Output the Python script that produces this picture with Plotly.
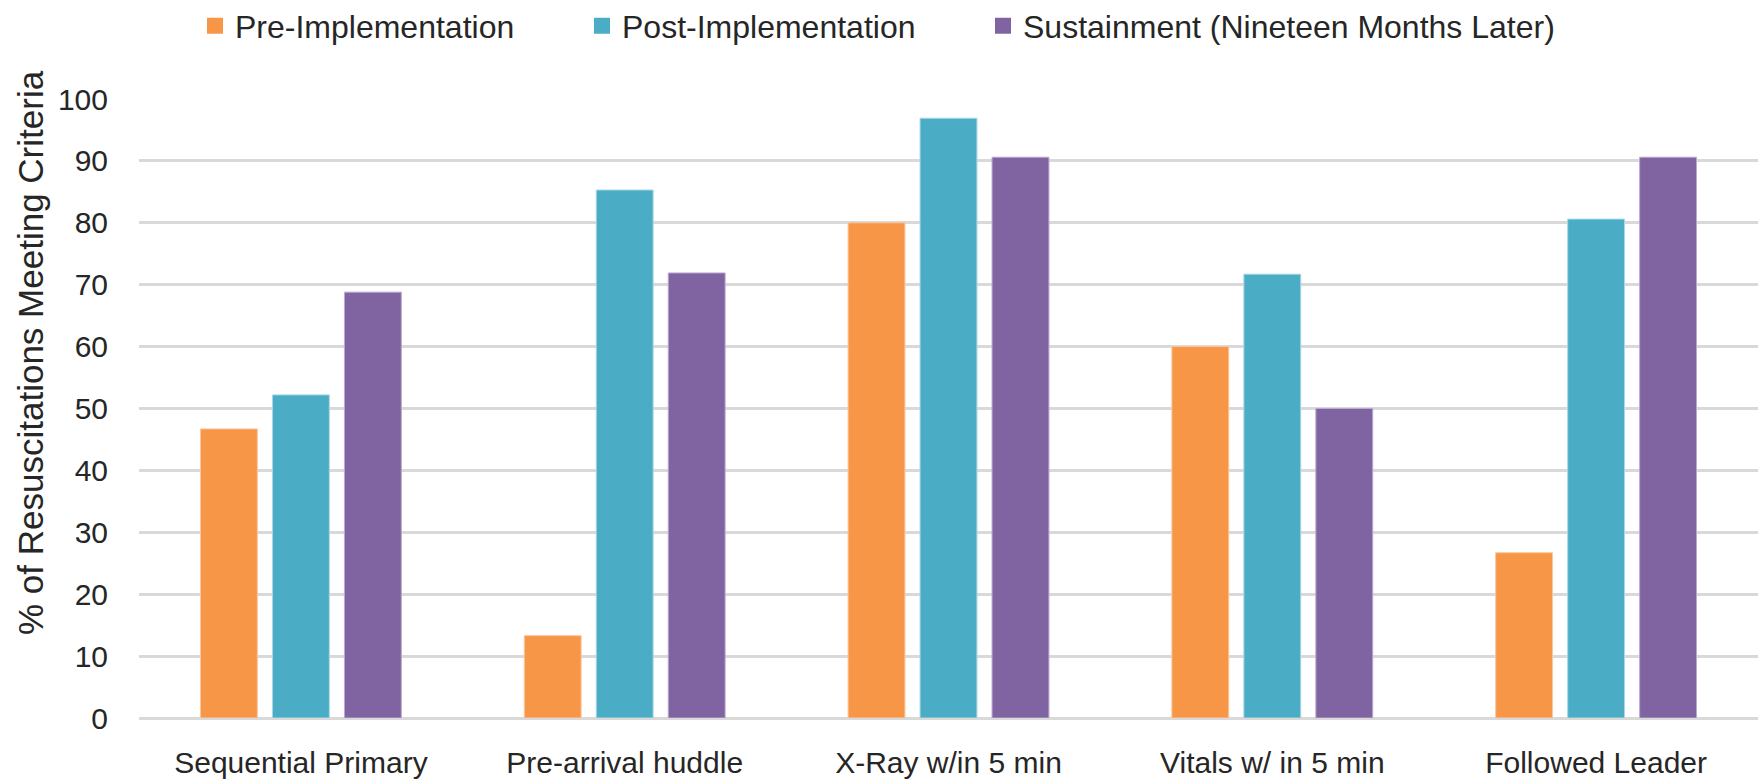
import plotly.graph_objects as go

# Resuscitation process measures, % of cases meeting each criterion
categories = [
    "Sequential Primary",
    "Pre-arrival huddle",
    "X-Ray w/in 5 min",
    "Vitals w/ in 5 min",
    "Followed Leader",
]
pre_implementation = [46.7, 13.3, 80.0, 60.0, 26.7]
post_implementation = [52.2, 85.3, 96.9, 71.7, 80.6]
sustainment = [68.8, 71.9, 90.6, 50.0, 90.6]

series_names = [
    "Pre-Implementation",
    "Post-Implementation",
    "Sustainment (Nineteen Months Later)",
]
series_values = [pre_implementation, post_implementation, sustainment]
colors = ["#F79646", "#4BACC6", "#8064A2"]
edge_colors = ["#FBC7A0", "#A8D8E6", "#BBA9D0"]

W, H = 1758, 779
FONT = "Liberation Sans, Arial, sans-serif"
TEXT = "#262626"

fig = go.Figure()

for name, vals, col, edge in zip(series_names, series_values, colors, edge_colors):
    fig.add_trace(go.Bar(
        x=categories, y=vals, name=name,
        marker=dict(color=col, line=dict(color=edge, width=1)),
        showlegend=False,
    ))

# one legend per series so each key sits at its own spot along the top
legend_ids = ["legend", "legend2", "legend3"]
legend_left_px = [195, 582, 983]
for name, col, lid in zip(series_names, colors, legend_ids):
    fig.add_trace(go.Scatter(
        x=[None], y=[None], mode="markers", name=name,
        marker=dict(symbol="square", size=16, color=col),
        legend=lid, showlegend=True,
    ))

legend_common = dict(
    orientation="h",
    xref="container", yref="container",
    xanchor="left", yanchor="middle",
    y=1 - 26 / H,
    font=dict(family=FONT, size=32, color=TEXT),
    bgcolor="rgba(0,0,0,0)",
    itemsizing="trace",
)

layout_legends = {}
for lid, left in zip(legend_ids, legend_left_px):
    layout_legends[lid] = dict(legend_common, x=left / W)

ML, MT, MB = 139, 99, 61
fig.update_layout(
    width=W, height=H,
    margin=dict(l=ML, r=0, t=MT, b=MB, autoexpand=False),
    paper_bgcolor="white", plot_bgcolor="white",
    barmode="group", bargap=0.333, bargroupgap=0.21,
    font=dict(family=FONT, color=TEXT),
    **layout_legends,
)

fig.update_xaxes(
    showgrid=False, showline=False, zeroline=False,
    ticks="", tickfont=dict(family=FONT, size=30, color=TEXT),
    ticklabelstandoff=24,
)
fig.update_yaxes(
    range=[0, 100], tickmode="linear", tick0=0, dtick=10,
    showgrid=True, gridcolor="#D9D9D9", gridwidth=3,
    zeroline=True, zerolinecolor="#D9D9D9", zerolinewidth=3,
    showline=False, ticks="",
    tickfont=dict(family=FONT, size=30, color=TEXT),
    ticklabelstandoff=30,
)

plot_w = W - ML
plot_h = H - MT - MB
fig.add_annotation(
    text="% of Resuscitations Meeting Criteria",
    xref="paper", yref="paper",
    x=(30 - ML) / plot_w, y=(H - MB - 353) / plot_h,
    xanchor="center", yanchor="middle",
    textangle=-90, showarrow=False,
    font=dict(family=FONT, size=35, color=TEXT),
)

fig.write_html("out.html")
